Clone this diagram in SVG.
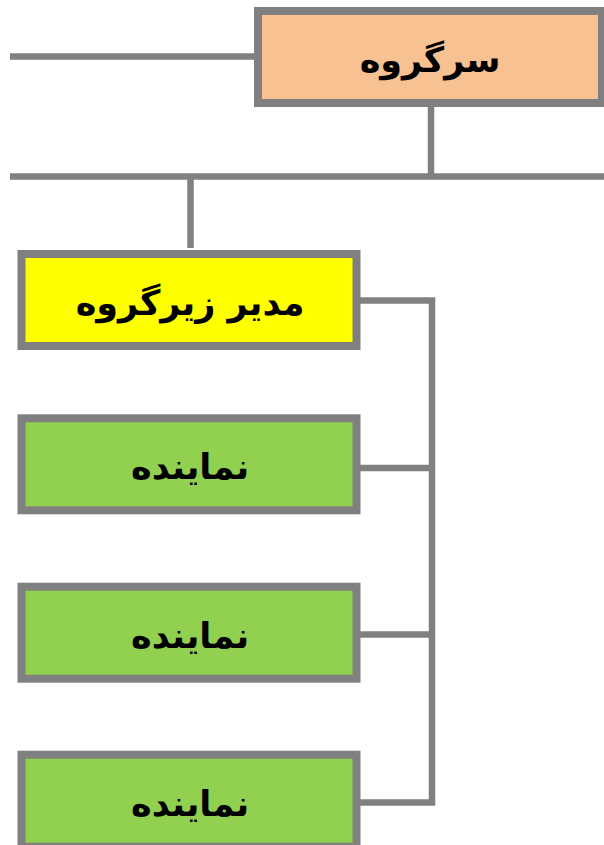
<svg xmlns="http://www.w3.org/2000/svg" width="604" height="845" viewBox="0 0 604 845">
<style>
.box{stroke:#808080;stroke-width:8}
.head{fill:#F8C191}
.mgr{fill:#FFFF00}
.rep{fill:#92D050}
.lbl{font-family:"DejaVu Sans",sans-serif;font-weight:bold;font-size:35px;fill:#000;text-anchor:middle}
.conn{fill:none;stroke:#808080;stroke-width:6.5;stroke-linejoin:miter;stroke-linecap:butt}
</style>
<rect width="604" height="845" fill="#ffffff"/>
<g id="connectors">
<path class="conn" d="M10 56.5H254"/>
<path class="conn" d="M431 107V176.5"/>
<path class="conn" d="M10 176.5H604"/>
<path class="conn" d="M190.5 176.5V248"/>
<path class="conn" d="M360 300.5H432V802.5H360"/>
<path class="conn" d="M360 468H432"/>
<path class="conn" d="M360 634.5H432"/>
</g>
<g id="node-head">
<rect class="box head" x="258" y="11" width="344" height="92"/>
<text class="lbl" x="430" y="72" direction="rtl">سرگروه</text>
</g>
<g id="node-manager">
<rect class="box mgr" x="21.5" y="254" width="335" height="92"/>
<text class="lbl" x="190" y="315" direction="rtl">مدیر زیرگروه</text>
</g>
<g id="node-rep1">
<rect class="box rep" x="21.5" y="418.3" width="335" height="92"/>
<text class="lbl" x="190" y="479.3" direction="rtl">نماینده</text>
</g>
<g id="node-rep2">
<rect class="box rep" x="21.5" y="586.7" width="335" height="92"/>
<text class="lbl" x="190" y="647.7" direction="rtl">نماینده</text>
</g>
<g id="node-rep3">
<rect class="box rep" x="21.5" y="754.7" width="335" height="92"/>
<text class="lbl" x="190" y="815.7" direction="rtl">نماینده</text>
</g>
</svg>
